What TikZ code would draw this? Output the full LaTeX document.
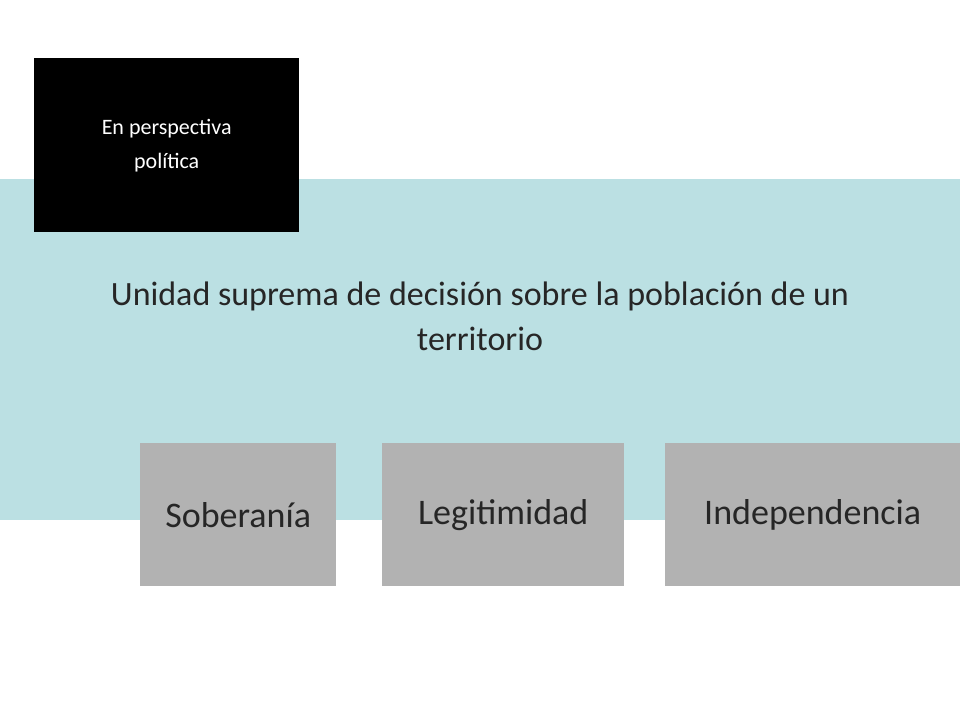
\documentclass[tikz,border=0pt]{standalone}
\usepackage{fontspec}
\setmainfont{Carlito}
\definecolor{band}{HTML}{BBE0E3}
\definecolor{gbox}{HTML}{B2B2B2}
\begin{document}
\begin{tikzpicture}[x=1pt,y=-1pt,
  gray box/.style={fill=gbox,draw=none,inner sep=0pt,anchor=north west,font=\fontsize{36}{40}\selectfont,text=black!85}]
\useasboundingbox (0,0) rectangle (960,720);
\fill[white] (0,0) rectangle (960,720);
\fill[band] (0,179) rectangle (960,520);
\node[fill=black,anchor=north west,minimum width=265pt,minimum height=174pt,inner sep=0pt,text=white,align=center,font=\fontsize{22}{34}\selectfont] (tag) at (34,58) {En perspectiva\\política};
\node[align=center,font=\fontsize{34}{45}\selectfont,text=black!85] (main) at (480,316) {Unidad suprema de decisión sobre la población de un\\territorio};
\node[gray box,minimum width=196pt,minimum height=143pt] (s) at (140,443) {Soberanía};
\node[gray box,minimum width=242pt,minimum height=143pt] (l) at (382,443) {Legitimidad};
\node[gray box,minimum width=295pt,minimum height=143pt] (i) at (665,443) {Independencia};
\end{tikzpicture}
\end{document}
